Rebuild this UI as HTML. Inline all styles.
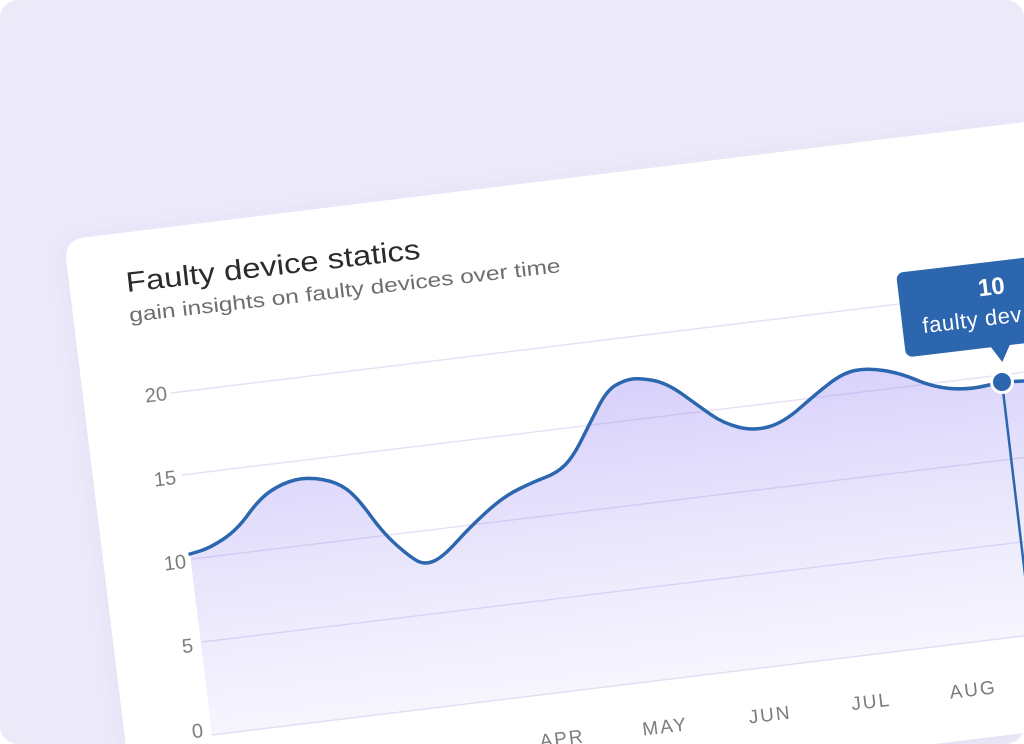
<!DOCTYPE html>
<html>
<head>
<meta charset="utf-8">
<style>
html,body{margin:0;padding:0;background:#ffffff;width:1024px;height:744px;overflow:hidden}
svg{display:block}
</style>
</head>
<body>
<svg width="1024" height="744" viewBox="0 0 1024 744" xmlns="http://www.w3.org/2000/svg" font-family="'Liberation Sans', sans-serif">
  <defs>
    <filter id="sh" x="-20%" y="-20%" width="140%" height="140%">
      <feDropShadow dx="0" dy="3" stdDeviation="9" flood-color="#5a4fb0" flood-opacity="0.08"/>
    </filter>
    <linearGradient id="fg" gradientUnits="userSpaceOnUse" x1="600" y1="370" x2="639" y2="700">
      <stop offset="0" stop-color="#d6cefb"/>
      <stop offset="0.5" stop-color="#e9e6fc"/>
      <stop offset="1" stop-color="#f8f7fe"/>
    </linearGradient>
    <clipPath id="bg"><rect width="1024" height="744" rx="18"/></clipPath>
  </defs>

  <g clip-path="url(#bg)">
    <rect width="1024" height="744" fill="#ECEAF9"/>

    <!-- card -->
    <path d="M66.4,261.8 Q63.7,240 85.5,237.3 L1024,122.1 L1024,733 L934.4,744 L125.6,744 Z" fill="#ffffff" filter="url(#sh)"/>

    <!-- area fill -->
    <path fill="url(#fg)" d="M190,554 L200,551 Q210,548 223.5,539 Q237,530 248.5,514 Q260,498 271.5,490.5 Q283,483 295,480 Q307,477 322,479.5 Q337,482 347,489.5 Q357,497 370,515 Q383,533 396.5,545 Q410,557 417.5,561 Q425,565 434,561 Q443,557 456.5,542 Q470,527 486.5,512 Q503,497 518,489.5 Q533,482 545,477.5 Q557,473 565,465 Q573,457 581.5,440 Q590,423 598.5,406.5 Q607,390 616,385 Q625,380 632.5,379 Q640,378 653.5,380.5 Q667,383 683.5,395 Q700,407 711.5,415 Q723,423 738,427 Q753,431 768,427 Q783,423 800,408 Q817,393 830,383 Q843,373 855,370.5 Q867,368 883.5,370.5 Q900,373 916.5,380 Q933,387 950,388.5 Q967,390 984.5,386 Q1002,382 1013,381.5 L1024,381 L1024,636 L212,735 Z"/>

    <!-- gridlines -->
    <g stroke="rgba(150,140,215,0.26)" stroke-width="1.4" fill="none">
      <path d="M171,393 L1024,288.7"/>
      <path d="M182,475 L1024,372.2"/>
      <path d="M192,559 L1024,457.5"/>
      <path d="M202,642 L1024,541.7"/>
      <path d="M212,735 L1024,636"/>
    </g>

    <!-- curve -->
    <path fill="none" stroke="#2B66AE" stroke-width="3.5" stroke-linecap="round" stroke-linejoin="round" d="M190,554 L200,551 Q210,548 223.5,539 Q237,530 248.5,514 Q260,498 271.5,490.5 Q283,483 295,480 Q307,477 322,479.5 Q337,482 347,489.5 Q357,497 370,515 Q383,533 396.5,545 Q410,557 417.5,561 Q425,565 434,561 Q443,557 456.5,542 Q470,527 486.5,512 Q503,497 518,489.5 Q533,482 545,477.5 Q557,473 565,465 Q573,457 581.5,440 Q590,423 598.5,406.5 Q607,390 616,385 Q625,380 632.5,379 Q640,378 653.5,380.5 Q667,383 683.5,395 Q700,407 711.5,415 Q723,423 738,427 Q753,431 768,427 Q783,423 800,408 Q817,393 830,383 Q843,373 855,370.5 Q867,368 883.5,370.5 Q900,373 916.5,380 Q933,387 950,388.5 Q967,390 984.5,386 Q1002,382 1013,381.5 L1024,381"/>

    <!-- vertical indicator line -->
    <path d="M1002,382 L1028,600" stroke="#2B66AE" stroke-width="2.5" fill="none"/>

    <!-- title & subtitle -->
    <text x="127" y="292" font-size="28" fill="#2b2b2b" textLength="296" lengthAdjust="spacingAndGlyphs" transform="rotate(-6.5 127 292)">Faulty device statics</text>
    <text x="130" y="322" font-size="20" fill="#6e6e6e" textLength="434" lengthAdjust="spacingAndGlyphs" transform="rotate(-6.6 130 322)">gain insights on faulty devices over time</text>

    <!-- y labels -->
    <g font-size="20" fill="#7c7c7c" text-anchor="end">
      <text x="0" y="7" transform="translate(167,393) rotate(-6.8)">20</text>
      <text x="0" y="7" transform="translate(176,477) rotate(-6.8)">15</text>
      <text x="0" y="7" transform="translate(186,561) rotate(-6.8)">10</text>
      <text x="0" y="7" transform="translate(193,645) rotate(-6.8)">5</text>
      <text x="0" y="7" transform="translate(203,730) rotate(-6.8)">0</text>
    </g>

    <!-- x labels -->
    <g font-size="19" fill="#7c7c7c" text-anchor="middle" letter-spacing="2">
      <text x="0" y="7" transform="translate(562,738) rotate(-6.8)">APR</text>
      <text x="0" y="7" transform="translate(665,726) rotate(-6.8)">MAY</text>
      <text x="0" y="7" transform="translate(770,714) rotate(-6.8)">JUN</text>
      <text x="0" y="7" transform="translate(871,701) rotate(-6.8)">JUL</text>
      <text x="0" y="7" transform="translate(973,689) rotate(-6.8)">AUG</text>
    </g>

    <!-- tooltip -->
    <g transform="translate(896,273) rotate(-6.8)">
      <rect x="0" y="0" width="140" height="85" rx="7" fill="#2B66AE"/>
      <path d="M85,84 L105,84 L95,101 Z" fill="#2B66AE"/>
      <text x="93" y="33" font-size="24" font-weight="bold" fill="#ffffff" text-anchor="middle">10</text>
      <text x="20" y="63" font-size="22" letter-spacing="0.6" fill="#ffffff">faulty dev</text>
    </g>

    <!-- dot -->
    <circle cx="1002" cy="382" r="10.5" fill="#2B66AE" stroke="#ffffff" stroke-width="3"/>
  </g>
</svg>
</body>
</html>
